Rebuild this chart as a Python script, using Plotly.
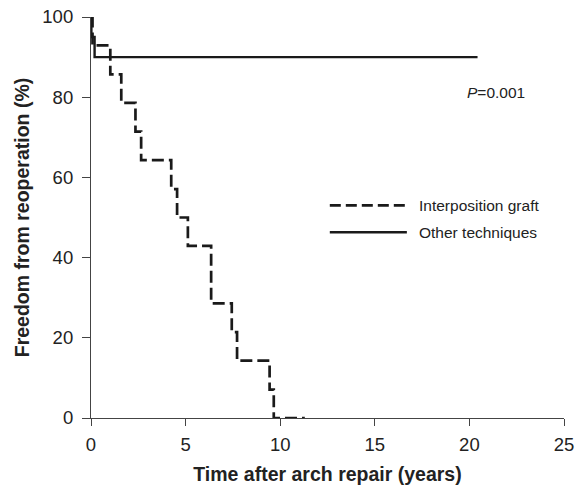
import plotly.graph_objects as go

# Interposition graft (Kaplan-Meier steps)
ig_time = [0, 0.08, 1.02, 1.6, 2.35, 2.65, 4.24, 4.55, 5.12, 6.35, 7.44, 7.72, 9.44, 9.66, 11.3]
ig_surv = [100, 92.9, 85.7, 78.6, 71.4, 64.3, 57.1, 50.0, 42.9, 28.6, 21.4, 14.3, 7.1, 0, 0]

# Other techniques
ot_time = [0, 0.02, 0.19, 20.43]
ot_surv = [100, 95, 90, 90]

x_ticks = [0, 5, 10, 15, 20, 25]
y_ticks = [0, 20, 40, 60, 80, 100]

FONT = "Liberation Sans, Arial, sans-serif"
INK = "#1a1a1a"

L, R, T, B = 91.4, 11, 16.7, 68.3
PW = 575 - L - R
PH = 486 - T - B


def px(x):
    return (x - L) / PW


def py(y):
    return (486 - B - y) / PH


fig = go.Figure()
fig.add_trace(go.Scatter(x=ig_time, y=ig_surv, mode="lines", line_shape="hv",
                         name="Interposition graft",
                         line=dict(color=INK, width=2.7, dash="12px,5px"),
                         showlegend=False))
fig.add_trace(go.Scatter(x=ot_time, y=ot_surv, mode="lines", line_shape="hv",
                         name="Other techniques",
                         line=dict(color=INK, width=2.4),
                         showlegend=False))

# Manual legend (long line samples as in the reference)
fig.add_shape(type="line", xref="paper", yref="paper", x0=px(330), x1=px(407),
              y0=py(205), y1=py(205),
              line=dict(color=INK, width=2.7, dash="11px,5px"))
fig.add_shape(type="line", xref="paper", yref="paper", x0=px(330), x1=px(407),
              y0=py(232), y1=py(232),
              line=dict(color=INK, width=2.4))
fig.add_annotation(xref="paper", yref="paper", x=px(417), y=py(205),
                   text="Interposition graft", showarrow=False, xanchor="left", yanchor="middle",
                   font=dict(family=FONT, size=15.5, color="#222"))
fig.add_annotation(xref="paper", yref="paper", x=px(417), y=py(232),
                   text="Other techniques", showarrow=False, xanchor="left", yanchor="middle",
                   font=dict(family=FONT, size=15.5, color="#222"))
fig.add_annotation(xref="paper", yref="paper", x=px(465), y=py(92),
                   text="<i>P</i>=0.001", showarrow=False, xanchor="left", yanchor="middle",
                   font=dict(family=FONT, size=15.5, color="#222"))

fig.update_layout(
    width=575, height=486,
    margin=dict(l=L, r=R, t=T, b=B, autoexpand=False),
    paper_bgcolor="white", plot_bgcolor="white",
    font=dict(family=FONT, color="#222"),
    showlegend=False,
)
fig.update_xaxes(range=[0, 25], tickvals=x_ticks, showgrid=False, zeroline=False,
                 automargin=False,
                 showline=True, linecolor="#444", linewidth=1.2,
                 ticks="outside", ticklen=7, tickcolor="#444", ticklabelstandoff=3,
                 tickfont=dict(size=18.5, family=FONT, color="#222"),
                 title=dict(text="<b>Time after arch repair (years)</b>",
                            font=dict(size=19.5, family=FONT, color="#222"), standoff=13))
fig.update_yaxes(range=[0, 100], tickvals=y_ticks, showgrid=False, zeroline=False,
                 automargin=False,
                 showline=True, linecolor="#444", linewidth=1.2,
                 ticks="outside", ticklen=8, tickcolor="#444", ticklabelstandoff=5,
                 tickfont=dict(size=18.5, family=FONT, color="#222"),
                 title=dict(text="<b>Freedom from reoperation (%)</b>",
                            font=dict(size=19.5, family=FONT, color="#222"), standoff=7))

fig.write_html("out.html")
